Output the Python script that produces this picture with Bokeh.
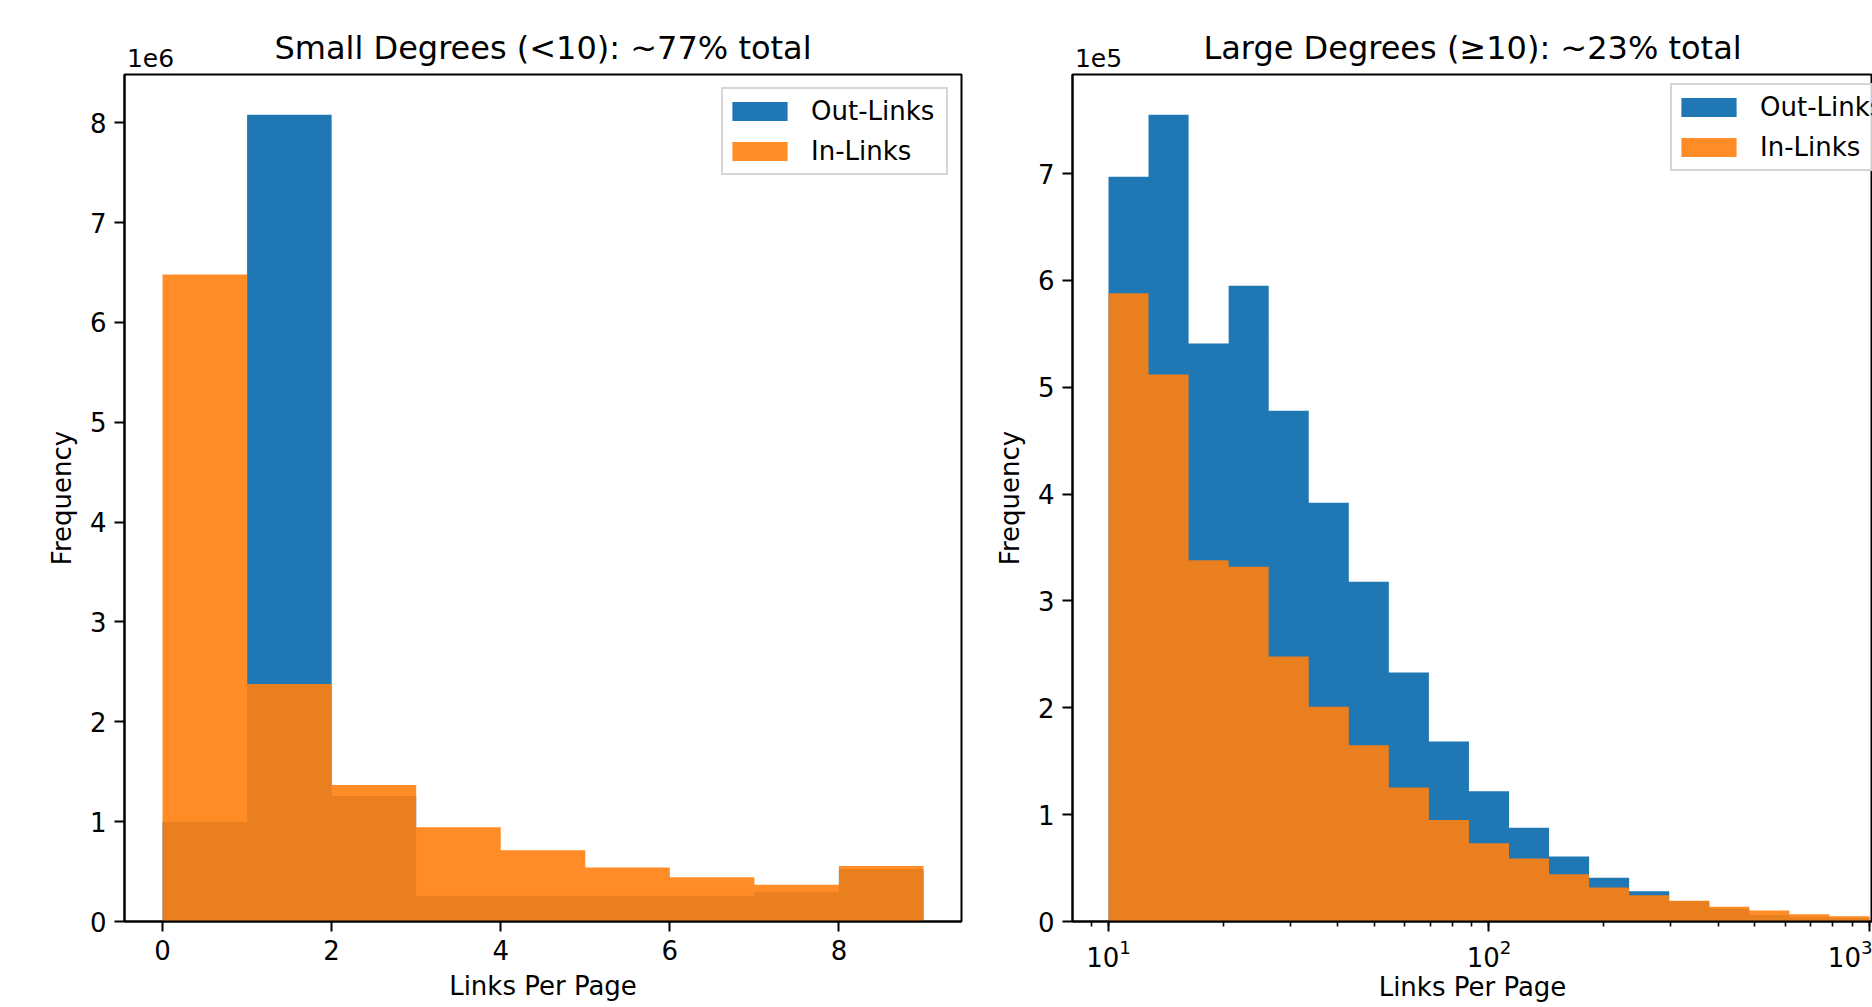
import numpy as np
from bokeh.plotting import figure
from bokeh.layouts import row
from bokeh.models import (Range1d, SingleIntervalTicker, CustomJSTickFormatter, FixedTicker,
                          LinearAxis, LogAxis, LogTicker)
from bokeh.embed import file_html
from bokeh.resources import INLINE

# ---------------- data ----------------
small_edges = [0, 1, 2, 3, 4, 5, 6, 7, 8, 9]
out_small = [1.00e6, 8.08e6, 1.257e6, 0.257e6, 0.257e6, 0.257e6, 0.257e6, 0.293e6, 0.523e6]
in_small = [6.48e6, 2.38e6, 1.367e6, 0.943e6, 0.713e6, 0.540e6, 0.443e6, 0.367e6, 0.557e6]

large_edges = list(np.logspace(1, 3, 20))
out_large = [6.97e5, 7.55e5, 5.41e5, 5.95e5, 4.78e5, 3.92e5, 3.18e5, 2.33e5, 1.685e5, 1.22e5,
             0.877e5, 0.609e5, 0.409e5, 0.284e5, 0.19e5, 0.12e5, 0.06e5, 0.04e5, 0.03e5]
in_large = [5.88e5, 5.12e5, 3.38e5, 3.32e5, 2.48e5, 2.01e5, 1.65e5, 1.255e5, 0.95e5, 0.733e5,
            0.59e5, 0.443e5, 0.318e5, 0.246e5, 0.194e5, 0.137e5, 0.103e5, 0.068e5, 0.05e5]

titles = ["Small Degrees (<10): ~77% total", "Large Degrees (\u226510): ~23% total"]
offset_texts = ["1e6", "1e5"]
series_names = ["Out-Links", "In-Links"]
BLUE = "#1f77b4"
ORANGE = "#ff7f0e"
FONT = "DejaVu Sans"


def add_top(p, axis_cls, title_text, offset_text, offset_pos):
    # an axis above the frame carries the scale-offset text and the title
    top = axis_cls(ticker=FixedTicker(ticks=[offset_pos]),
                   formatter=CustomJSTickFormatter(code="return '%s';" % offset_text))
    top.axis_line_color = None
    top.major_tick_out = 0
    top.major_tick_in = 0
    top.minor_tick_out = 0
    top.minor_tick_in = 0
    top.major_label_standoff = 8
    top.major_label_text_font = FONT
    top.major_label_text_font_size = "25px"
    top.major_label_text_color = "black"
    top.axis_label = title_text
    top.axis_label_text_font = FONT
    top.axis_label_text_font_size = "32px"
    top.axis_label_text_font_style = "normal"
    top.axis_label_text_color = "black"
    top.axis_label_standoff = -21
    p.add_layout(top, "above")


def style(p):
    p.grid.visible = False
    p.outline_line_color = "black"
    p.outline_line_width = 2
    p.outline_line_alpha = 1
    for ax in (p.xaxis[0], p.yaxis[0]):
        ax.axis_line_width = 2
        ax.axis_line_color = "black"
        ax.major_tick_line_width = 2
        ax.major_tick_line_color = "black"
        ax.minor_tick_line_width = 1.6
        ax.minor_tick_line_color = "black"
        ax.major_tick_out = 10
        ax.major_tick_in = 0
        ax.minor_tick_out = 5
        ax.minor_tick_in = 0
        ax.major_label_text_font = FONT
        ax.major_label_text_font_size = "26px"
        ax.major_label_text_color = "black"
        ax.axis_label_text_font = FONT
        ax.axis_label_text_font_size = "26px"
        ax.axis_label_text_font_style = "normal"
        ax.axis_label_text_color = "black"
    p.xaxis[0].axis_label = "Links Per Page"
    p.yaxis[0].axis_label = "Frequency"
    p.xaxis[0].major_label_standoff = 8
    p.xaxis[0].axis_label_standoff = 8
    p.yaxis[0].major_label_standoff = 8
    p.yaxis[0].axis_label_standoff = 10


def step_outline(edges, vals):
    xs = [edges[0]]
    ys = [0]
    for i, v in enumerate(vals):
        xs += [edges[i], edges[i + 1]]
        ys += [v, v]
    xs.append(edges[-1])
    ys.append(0)
    return xs, ys


def add_hist(p, edges, out_vals, in_vals, loc):
    xo, yo = step_outline(edges, out_vals)
    xi, yi = step_outline(edges, in_vals)
    p.patch(x=xo, y=yo, fill_color=BLUE, fill_alpha=1.0, line_color=None,
            legend_label=series_names[0])
    p.patch(x=xi, y=yi, fill_color=ORANGE, fill_alpha=0.9, line_color=None,
            legend_label=series_names[1])
    lg = p.legend[0]
    lg.location = loc
    lg.margin = 13
    lg.padding = 2
    lg.spacing = 0
    lg.glyph_width = 69
    lg.glyph_height = 24
    lg.label_height = 40
    lg.label_width = 133
    lg.label_standoff = 17
    lg.label_text_font = FONT
    lg.label_text_font_size = "26px"
    lg.label_text_color = "black"
    lg.border_line_color = "#cccccc"
    lg.border_line_width = 2
    lg.border_line_alpha = 0.8
    lg.background_fill_color = "white"
    lg.background_fill_alpha = 0.8


# ---------------- left panel ----------------
x1_start, x1_end = -0.45, 9.45
ymax1 = max(max(out_small), max(in_small)) * 1.05
p1 = figure(width=990, height=1007, output_backend="svg", toolbar_location=None, title=None,
            x_range=Range1d(x1_start, x1_end), y_range=Range1d(0, ymax1),
            min_border_left=124, min_border_right=29, min_border_top=74, min_border_bottom=86)
style(p1)
add_hist(p1, small_edges, out_small, in_small, "top_right")
p1.xaxis[0].ticker = SingleIntervalTicker(interval=2, num_minor_ticks=0)
p1.yaxis[0].ticker = SingleIntervalTicker(interval=1e6, num_minor_ticks=0)
p1.yaxis[0].formatter = CustomJSTickFormatter(code="return (tick/1e6).toFixed(0);")
# offset text centred 26px right of the frame's left edge (frame is 837px wide)
add_top(p1, LinearAxis, titles[0], offset_texts[0], x1_start + 26 * (x1_end - x1_start) / 837)

# ---------------- right panel ----------------
lx2_start, lx2_end = 0.9054, 3.008
ymax2 = max(max(out_large), max(in_large)) * 1.05
p2 = figure(width=882, height=1007, output_backend="svg", toolbar_location=None, title=None,
            x_axis_type="log", x_range=Range1d(10 ** lx2_start, 10 ** lx2_end),
            y_range=Range1d(0, ymax2),
            min_border_left=82, min_border_right=0, min_border_top=74, min_border_bottom=86)
style(p2)
add_hist(p2, large_edges, out_large, in_large, (598, 750))
p2.xaxis[0].ticker = LogTicker(num_minor_ticks=10)
p2.xaxis[0].major_label_standoff = 7
p2.xaxis[0].axis_label_standoff = 2
p2.yaxis[0].ticker = SingleIntervalTicker(interval=1e5, num_minor_ticks=0)
p2.yaxis[0].formatter = CustomJSTickFormatter(code="return (tick/1e5).toFixed(0);")
add_top(p2, LogAxis, titles[1], offset_texts[1],
        10 ** (lx2_start + 26 * (lx2_end - lx2_start) / 800))

layout = row(p1, p2)
open("out.html", "w").write(file_html(layout, INLINE))
